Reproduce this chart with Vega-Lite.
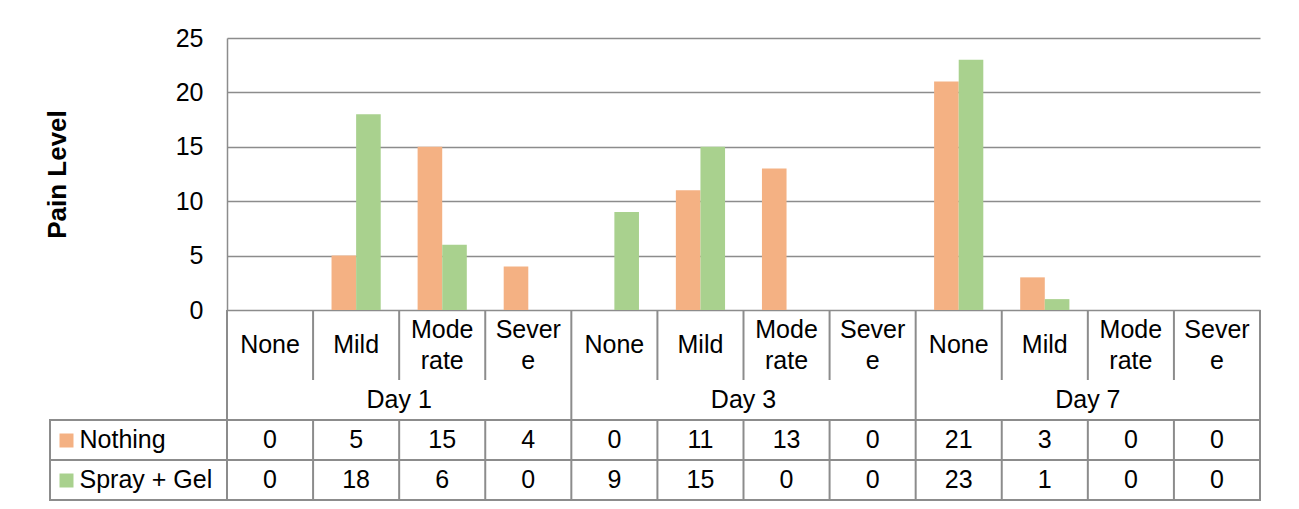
{
  "$schema": "https://vega.github.io/schema/vega-lite/v6.json",
  "background": "white",
  "padding": {"left": 44, "top": 26, "right": 5, "bottom": 5},
  "autosize": {"type": "pad"},
  "config": {
    "view": {"stroke": null},
    "font": "Liberation Sans",
    "axis": {"labelFont": "Liberation Sans", "titleFont": "Liberation Sans"},
    "text": {"font": "Liberation Sans", "fontSize": 25, "color": "#000000"}
  },
  "datasets": {
    "main": [
      {"day": "Day 1", "level": "None", "key": "D1-None", "label": "None", "series": "Nothing", "value": 0},
      {"day": "Day 1", "level": "None", "key": "D1-None", "label": "None", "series": "Spray + Gel", "value": 0},
      {"day": "Day 1", "level": "Mild", "key": "D1-Mild", "label": "Mild", "series": "Nothing", "value": 5},
      {"day": "Day 1", "level": "Mild", "key": "D1-Mild", "label": "Mild", "series": "Spray + Gel", "value": 18},
      {"day": "Day 1", "level": "Moderate", "key": "D1-Moderate", "label": "Mode|rate", "series": "Nothing", "value": 15},
      {"day": "Day 1", "level": "Moderate", "key": "D1-Moderate", "label": "Mode|rate", "series": "Spray + Gel", "value": 6},
      {"day": "Day 1", "level": "Severe", "key": "D1-Severe", "label": "Sever|e", "series": "Nothing", "value": 4},
      {"day": "Day 1", "level": "Severe", "key": "D1-Severe", "label": "Sever|e", "series": "Spray + Gel", "value": 0},
      {"day": "Day 3", "level": "None", "key": "D3-None", "label": "None", "series": "Nothing", "value": 0},
      {"day": "Day 3", "level": "None", "key": "D3-None", "label": "None", "series": "Spray + Gel", "value": 9},
      {"day": "Day 3", "level": "Mild", "key": "D3-Mild", "label": "Mild", "series": "Nothing", "value": 11},
      {"day": "Day 3", "level": "Mild", "key": "D3-Mild", "label": "Mild", "series": "Spray + Gel", "value": 15},
      {"day": "Day 3", "level": "Moderate", "key": "D3-Moderate", "label": "Mode|rate", "series": "Nothing", "value": 13},
      {"day": "Day 3", "level": "Moderate", "key": "D3-Moderate", "label": "Mode|rate", "series": "Spray + Gel", "value": 0},
      {"day": "Day 3", "level": "Severe", "key": "D3-Severe", "label": "Sever|e", "series": "Nothing", "value": 0},
      {"day": "Day 3", "level": "Severe", "key": "D3-Severe", "label": "Sever|e", "series": "Spray + Gel", "value": 0},
      {"day": "Day 7", "level": "None", "key": "D7-None", "label": "None", "series": "Nothing", "value": 21},
      {"day": "Day 7", "level": "None", "key": "D7-None", "label": "None", "series": "Spray + Gel", "value": 23},
      {"day": "Day 7", "level": "Mild", "key": "D7-Mild", "label": "Mild", "series": "Nothing", "value": 3},
      {"day": "Day 7", "level": "Mild", "key": "D7-Mild", "label": "Mild", "series": "Spray + Gel", "value": 1},
      {"day": "Day 7", "level": "Moderate", "key": "D7-Moderate", "label": "Mode|rate", "series": "Nothing", "value": 0},
      {"day": "Day 7", "level": "Moderate", "key": "D7-Moderate", "label": "Mode|rate", "series": "Spray + Gel", "value": 0},
      {"day": "Day 7", "level": "Severe", "key": "D7-Severe", "label": "Sever|e", "series": "Nothing", "value": 0},
      {"day": "Day 7", "level": "Severe", "key": "D7-Severe", "label": "Sever|e", "series": "Spray + Gel", "value": 0}
    ]
  },
  "bounds": "flush",
  "spacing": 0,
  "columns": 2,
  "concat": [
    {"width": 1, "height": 1, "data": {"values": [{}]}, "mark": {"type": "point", "opacity": 0}},
    {
      "width": 1033,
      "height": 272,
      "data": {"name": "main"},
      "mark": {"type": "bar"},
      "encoding": {
        "x": {"field": "key", "type": "nominal", "scale": {"type": "band", "domain": ["D1-None","D1-Mild","D1-Moderate","D1-Severe","D3-None","D3-Mild","D3-Moderate","D3-Severe","D7-None","D7-Mild","D7-Moderate","D7-Severe"], "paddingInner": 0, "paddingOuter": 0}, "axis": null},
        "xOffset": {"field": "series", "type": "nominal", "scale": {"domain": ["Nothing", "Spray + Gel"], "paddingInner": 0, "paddingOuter": 0.75}},
        "y": {
          "field": "value", "type": "quantitative",
          "scale": {"domain": [0, 25], "nice": false},
          "axis": {
            "values": [0, 5, 10, 15, 20, 25], "title": "Pain Level",
            "grid": true, "gridColor": "#8c8c8c", "gridWidth": 1.5,
            "domain": true, "domainColor": "#8c8c8c", "domainWidth": 1.5,
            "ticks": false, "tickSize": 0,
            "labelFontSize": 25, "labelColor": "#000000", "labelPadding": 24,
            "titleFontSize": 26, "titleFontWeight": "bold", "titleColor": "#000000", "titlePadding": 105
          }
        },
        "color": {"field": "series", "type": "nominal", "scale": {"domain": ["Nothing", "Spray + Gel"], "range": ["#F4B183", "#A9D18E"]}, "legend": null}
      }
    },
    {"width": 1, "height": 1, "data": {"values": [{}]}, "mark": {"type": "point", "opacity": 0}},
    {
      "width": 1033,
      "height": 70,
      "data": {"name": "main"},
      "transform": [{"filter": "datum.series === 'Nothing'"}],
      "layer": [
        {
          "mark": {"type": "rule", "color": "#8c8c8c", "strokeWidth": 2},
          "encoding": {
            "x": {"field": "key", "type": "nominal", "bandPosition": 0, "scale": {"type": "band", "domain": ["D1-None","D1-Mild","D1-Moderate","D1-Severe","D3-None","D3-Mild","D3-Moderate","D3-Severe","D7-None","D7-Mild","D7-Moderate","D7-Severe"], "paddingInner": 0, "paddingOuter": 0}, "axis": null}
          }
        },
        {
          "transform": [{"filter": "datum.key === 'D7-Severe'"}],
          "mark": {"type": "rule", "color": "#8c8c8c", "strokeWidth": 2},
          "encoding": {
            "x": {"field": "key", "type": "nominal", "bandPosition": 1, "axis": null}
          }
        },
        {
          "transform": [{"filter": "indexof(datum.label, '|') < 0"}],
          "mark": {"type": "text", "fontSize": 25, "baseline": "middle", "align": "center"},
          "encoding": {
            "x": {"field": "key", "type": "nominal", "axis": null},
            "text": {"field": "label"}
          }
        },
        {
          "transform": [{"filter": "indexof(datum.label, '|') >= 0"}],
          "mark": {"type": "text", "fontSize": 25, "lineBreak": "|", "baseline": "middle", "align": "center", "lineHeight": 31, "dy": -15.5},
          "encoding": {
            "x": {"field": "key", "type": "nominal", "axis": null},
            "text": {"field": "label"}
          }
        }
      ]
    },
    {"width": 1, "height": 1, "data": {"values": [{}]}, "mark": {"type": "point", "opacity": 0}},
    {
      "width": 1033,
      "height": 40,
      "data": {"name": "main"},
      "transform": [{"filter": "datum.series === 'Nothing' && datum.level === 'None'"}],
      "layer": [
        {
          "mark": {"type": "rule", "color": "#8c8c8c", "strokeWidth": 2},
          "encoding": {
            "x": {"field": "day", "type": "nominal", "bandPosition": 0, "scale": {"type": "band", "domain": ["Day 1", "Day 3", "Day 7"], "paddingInner": 0, "paddingOuter": 0}, "axis": null}
          }
        },
        {
          "transform": [{"filter": "datum.day === 'Day 7'"}],
          "mark": {"type": "rule", "color": "#8c8c8c", "strokeWidth": 2},
          "encoding": {
            "x": {"field": "day", "type": "nominal", "bandPosition": 1, "axis": null}
          }
        },
        {
          "mark": {"type": "text", "fontSize": 25, "baseline": "middle", "align": "center"},
          "encoding": {
            "x": {"field": "day", "type": "nominal", "axis": null},
            "text": {"field": "day"}
          }
        }
      ]
    },
    {
      "width": 177,
      "height": 80,
      "view": {"stroke": "#8c8c8c", "strokeWidth": 2},
      "data": {"name": "main"},
      "transform": [{"filter": "datum.key === 'D1-None' && datum.series === 'Spray + Gel'"}],
      "mark": {"type": "rule", "color": "#8c8c8c", "strokeWidth": 2},
      "encoding": {
        "y": {
          "field": "series", "type": "nominal", "bandPosition": 0,
          "scale": {"type": "band", "domain": ["Nothing", "Spray + Gel"], "paddingInner": 0, "paddingOuter": 0},
          "axis": {
            "orient": "left", "offset": -23, "title": null, "domain": false, "grid": false,
            "ticks": true, "tickSize": 14, "tickWidth": 14, "tickCap": "butt",
            "tickColor": {"condition": {"test": "datum.value === 'Nothing'", "value": "#F4B183"}, "value": "#A9D18E"},
            "labelAlign": "left", "labelBaseline": "middle", "labelPadding": -20,
            "labelFontSize": 25, "labelColor": "#000000", "labelLimit": 300, "labelOverlap": false
          }
        }
      }
    },
    {
      "width": 1033,
      "height": 80,
      "view": {"stroke": "#8c8c8c", "strokeWidth": 2},
      "data": {"name": "main"},
      "layer": [
        {
          "transform": [{"filter": "datum.series === 'Nothing'"}],
          "mark": {"type": "rule", "color": "#8c8c8c", "strokeWidth": 2},
          "encoding": {
            "x": {"field": "key", "type": "nominal", "bandPosition": 0, "scale": {"type": "band", "domain": ["D1-None","D1-Mild","D1-Moderate","D1-Severe","D3-None","D3-Mild","D3-Moderate","D3-Severe","D7-None","D7-Mild","D7-Moderate","D7-Severe"], "paddingInner": 0, "paddingOuter": 0}, "axis": null}
          }
        },
        {
          "transform": [{"filter": "datum.key === 'D1-None' && datum.series === 'Spray + Gel'"}],
          "mark": {"type": "rule", "color": "#8c8c8c", "strokeWidth": 2},
          "encoding": {
            "y": {"field": "series", "type": "nominal", "bandPosition": 0, "scale": {"type": "band", "domain": ["Nothing", "Spray + Gel"], "paddingInner": 0, "paddingOuter": 0}, "axis": null}
          }
        },
        {
          "mark": {"type": "text", "fontSize": 25, "baseline": "middle", "align": "center"},
          "encoding": {
            "x": {"field": "key", "type": "nominal", "axis": null},
            "y": {"field": "series", "type": "nominal", "axis": null},
            "text": {"field": "value", "type": "quantitative"}
          }
        }
      ]
    }
  ]
}
